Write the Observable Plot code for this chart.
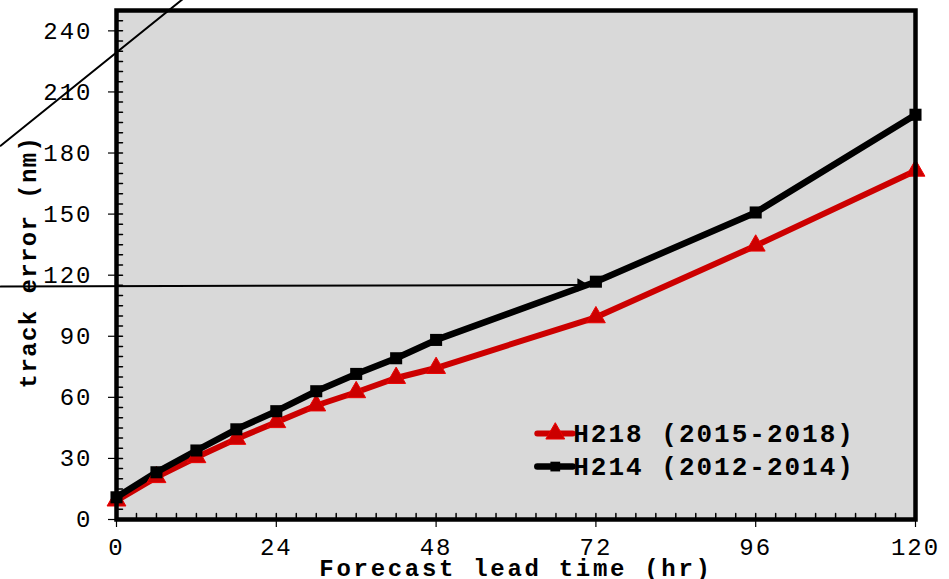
<!DOCTYPE html>
<html>
<head>
<meta charset="utf-8">
<script src="https://cdn.jsdelivr.net/npm/d3@7"></script>
<script src="https://cdn.jsdelivr.net/npm/@observablehq/plot@0.6"></script>
<style>
  html, body { margin: 0; padding: 0; background: white; }
  svg text { letter-spacing: 2px; }
</style>
</head>
<body>
<div id="chart"></div>
<script>
// ---- data ----
const hours = [0, 6, 12, 18, 24, 30, 36, 42, 48, 72, 96, 120];
const h218 = [9.3, 20.8, 30.6, 39.6, 47.8, 56.0, 62.5, 69.5, 74.4, 99.3, 134.5, 171.3];
const h214 = [10.9, 23.2, 33.9, 44.3, 53.2, 63.0, 71.5, 79.2, 88.2, 116.8, 150.8, 198.8];
const seriesNames = ["H218 (2015-2018)", "H214 (2012-2014)"];
const xTicks = [0, 24, 48, 72, 96, 120];
const yTicks = [0, 30, 60, 90, 120, 150, 180, 210, 240];
const xTitle = "Forecast lead time (hr)";
const yTitle = "track error (nm)";
// annotation strokes (data units)
const diagX = [-17.4, 12];
const diagY = [183.6, 261];
const arrowX = [-17.4, 69.5];
const arrowY = [114.4, 115.2];

// ---- build tables ----
const red = "#cc0000";
const rowsRed = hours.map((h, i) => ({hour: h, err: h218[i]}));
const rowsBlack = hours.map((h, i) => ({hour: h, err: h214[i]}));
const diag = diagX.map((x, i) => ({x, y: diagY[i]}));
const arrow = arrowX.map((x, i) => ({x, y: arrowY[i]}));
const xMinor = d3.range(0, 121, 3);
const yMinor = d3.range(0, 251, 5);

// legend layout (data units)
const legX1 = 63.2, legX2 = 68.5, legXm = 65.9, legTX = 68.6;
const legY = [42.2, 26.0];

const chart = Plot.plot({
  width: 949,
  height: 579,
  marginLeft: 116,
  marginRight: 34,
  marginTop: 10,
  marginBottom: 60,
  x: {domain: [0, 120]},
  y: {domain: [0, 250]},
  style: {fontFamily: "'Liberation Mono', 'Courier New', monospace", fontSize: "24px", background: "white", color: "black", overflow: "visible"},
  marks: [
    Plot.frame({fill: "#d9d9d9"}),
    Plot.vector(xMinor, {x: d => d, frameAnchor: "bottom", length: 6, r: 0, anchor: "start", stroke: "black", strokeWidth: 1.5}),
    Plot.vector(yMinor, {y: d => d, frameAnchor: "left", rotate: 90, length: 6, r: 0, anchor: "start", stroke: "black", strokeWidth: 1.5}),
    // data series
    Plot.line(rowsRed, {x: "hour", y: "err", stroke: red, strokeWidth: 6}),
    Plot.line(rowsBlack, {x: "hour", y: "err", stroke: "black", strokeWidth: 6.5}),
    Plot.dot(rowsRed, {x: "hour", y: "err", symbol: "triangle", r: 7, fill: red, stroke: "#ee0000", strokeWidth: 1}),
    Plot.dot(rowsBlack, {x: "hour", y: "err", symbol: "square", r: 6.8, fill: "black"}),
    // annotations
    Plot.line(diag, {x: "x", y: "y", stroke: "black", strokeWidth: 2}),
    Plot.line(arrow, {x: "x", y: "y", stroke: "black", strokeWidth: 2}),
    Plot.dot([arrow[1]], {x: "x", y: "y", symbol: "triangle", rotate: 90, r: 5, fill: "black", dx: 2}),
    // legend
    Plot.line([{x: legX1, y: legY[0]}, {x: legX2, y: legY[0]}], {x: "x", y: "y", stroke: red, strokeWidth: 6}),
    Plot.dot([{x: legXm, y: legY[0]}], {x: "x", y: "y", symbol: "triangle", r: 7, fill: red, stroke: "#ee0000", strokeWidth: 1}),
    Plot.line([{x: legX1, y: legY[1]}, {x: legX2, y: legY[1]}], {x: "x", y: "y", stroke: "black", strokeWidth: 6.5, strokeLinecap: "round"}),
    Plot.dot([{x: legXm, y: legY[1]}], {x: "x", y: "y", symbol: "square", r: 5.5, fill: "black"}),
    Plot.text(seriesNames, {x: legTX, y: (d, i) => legY[i], text: d => d, textAnchor: "start", lineAnchor: "middle", fontSize: 26, fontWeight: "bold", fill: "black"}),
    // frame border
    Plot.frame({stroke: "black", strokeWidth: 4.5}),
    // axes
    Plot.axisX({ticks: xTicks, tickSize: 8, tickPadding: 10, fontSize: 24, label: null, strokeWidth: 1.2}),
    Plot.axisY({ticks: yTicks, tickSize: 8, tickPadding: 16, fontSize: 24, label: null, strokeWidth: 1.2}),
    // titles
    Plot.text([xTitle], {frameAnchor: "bottom", text: d => d, dy: 49, textAnchor: "middle", lineAnchor: "middle", fontSize: 24, fontWeight: "bold", fill: "black"}),
    Plot.text([yTitle], {frameAnchor: "left", text: d => d, dx: -88, dy: -3, rotate: -90, textAnchor: "middle", lineAnchor: "middle", fontSize: 24, fontWeight: "bold", fill: "black"})
  ]
});
const spacing = new Map([[xTitle, "2.7px"], [yTitle, "1.4px"]]);
d3.select(chart).selectAll("text")
  .filter(function() { return spacing.has(this.textContent); })
  .each(function() { this.style.letterSpacing = spacing.get(this.textContent); });
document.getElementById("chart").appendChild(chart);
</script>
</body>
</html>
